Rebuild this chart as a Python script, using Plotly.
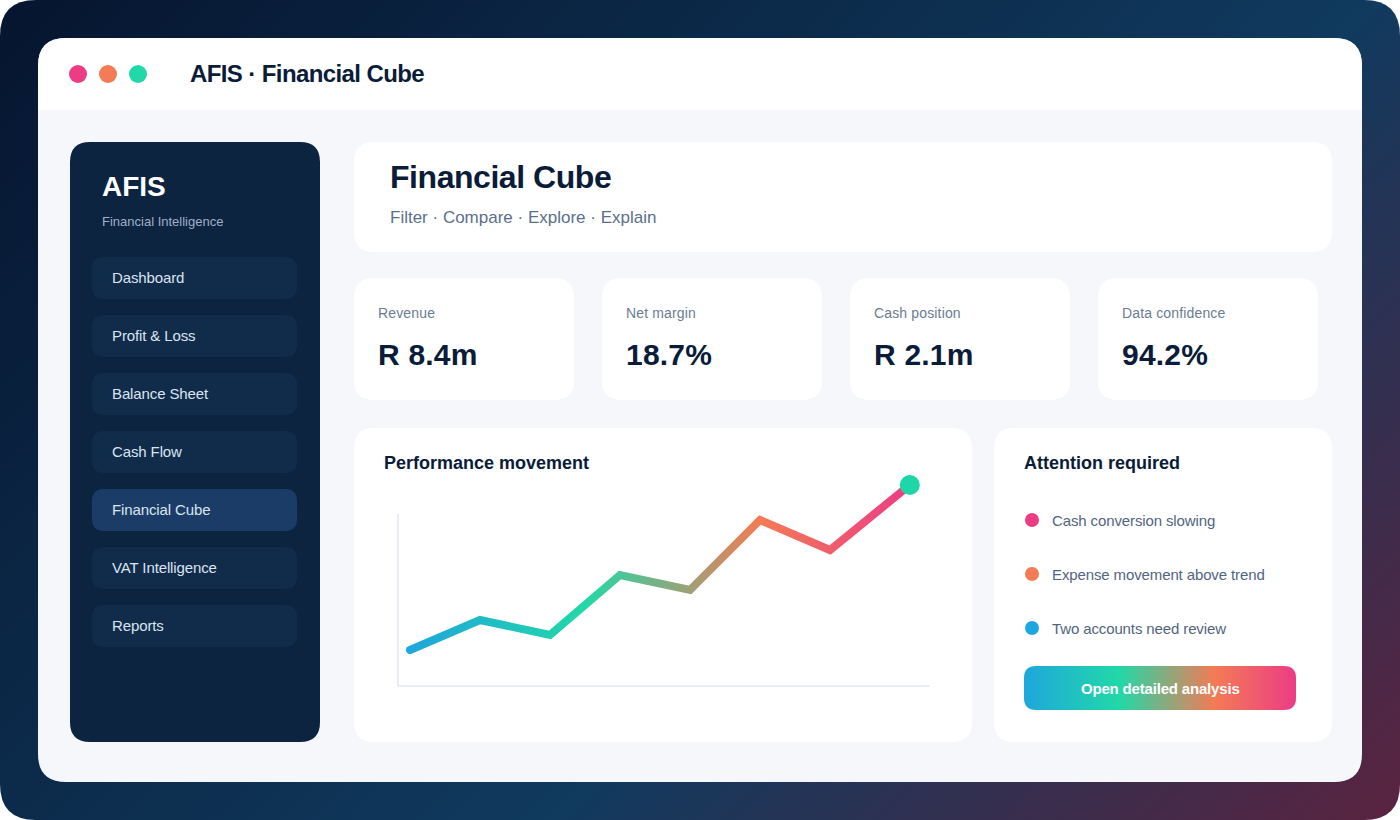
import json

import plotly.graph_objects as go

# チャートのデータ
periods = [0, 1, 2, 3, 4, 5, 6, 7.14]
movement = [36, 66, 51, 111, 96, 166, 136, 201]

# テキスト
nav_items = ["Dashboard", "Profit & Loss", "Balance Sheet", "Cash Flow", "Financial Cube", "VAT Intelligence", "Reports"]
kpi_labels = ["Revenue", "Net margin", "Cash position", "Data confidence"]
kpi_values = ["R 8.4m", "18.7%", "R 2.1m", "94.2%"]
alerts = ["Cash conversion slowing", "Expense movement above trend", "Two accounts need review"]

NAVY = "#0a1c38"
PINK = "#ec3c84"
ORANGE = "#f37b55"
GREEN = "#22d8a8"
BLUE = "#1ea7dc"
W, H = 1400, 820


def px_x(x):
    return x / W


def px_y(y):
    return 1 - y / H


def round_rect(x0, y0, x1, y1, r, fill, top_only=False):
    # 角丸の四角形（ピクセル指定 → paper座標）
    rb = 0 if top_only else r
    pts = [
        f"M {px_x(x0 + r)} {px_y(y0)}",
        f"L {px_x(x1 - r)} {px_y(y0)}",
        f"Q {px_x(x1)} {px_y(y0)} {px_x(x1)} {px_y(y0 + r)}",
        f"L {px_x(x1)} {px_y(y1 - rb)}",
        f"Q {px_x(x1)} {px_y(y1)} {px_x(x1 - rb)} {px_y(y1)}",
        f"L {px_x(x0 + rb)} {px_y(y1)}",
        f"Q {px_x(x0)} {px_y(y1)} {px_x(x0)} {px_y(y1 - rb)}",
        f"L {px_x(x0)} {px_y(y0 + r)}",
        f"Q {px_x(x0)} {px_y(y0)} {px_x(x0 + r)} {px_y(y0)} Z",
    ]
    return dict(type="path", xref="paper", yref="paper", path=" ".join(pts),
                fillcolor=fill, line_width=0, layer="below")


def dot(cx, cy, r, fill):
    return dict(type="circle", xref="paper", yref="paper", x0=px_x(cx - r), x1=px_x(cx + r),
                y0=px_y(cy + r), y1=px_y(cy - r), fillcolor=fill, line_width=0, layer="below")


def label(x, y, text, size, color, bold=False):
    return dict(xref="paper", yref="paper", x=px_x(x), y=px_y(y), text=text, showarrow=False,
                xanchor="left", yanchor="middle", align="left", borderpad=0, borderwidth=0,
                font=dict(family="Liberation Sans", size=size, color=color, weight=700 if bold else 400))


shapes = []
annotations = []

# 背景・ウィンドウ
shapes.append(round_rect(0, 0, 1400, 820, 36, "#0f3558"))  # index 0: グラデーション
shapes.append(round_rect(38, 38, 1362, 782, 28, "#f5f7fb"))
shapes.append(round_rect(38, 38, 1362, 110, 28, "#ffffff", top_only=True))

for cx, col in zip([78, 108, 138], [PINK, ORANGE, GREEN]):
    shapes.append(dot(cx, 74, 9, col))
annotations.append(label(190, 74, "AFIS · Financial Cube", 24, NAVY, True))

# サイドバー
shapes.append(round_rect(70, 142, 320, 742, 20, "#0d2440"))
annotations.append(label(102, 187, "AFIS", 28, "#ffffff", True))
annotations.append(label(102, 221, "Financial Intelligence", 13, "#9fb0c8"))
for i, name in enumerate(nav_items):
    y0 = 257 + 58 * i
    shapes.append(round_rect(92, y0, 297, y0 + 42, 12, "#1a3c66" if name == "Financial Cube" else "#112b4a"))
    annotations.append(label(112, y0 + 20.5, name, 15, "#dbe4f0"))

# ヘッダーカード
shapes.append(round_rect(354, 142, 1332, 252, 20, "#ffffff"))
annotations.append(label(390, 177, "Financial Cube", 32, NAVY, True))
annotations.append(label(390, 217, "Filter · Compare · Explore · Explain", 17, "#5b6f8c"))

# KPIカード
for i, (k, v) in enumerate(zip(kpi_labels, kpi_values)):
    x0 = 354 + 248 * i
    shapes.append(round_rect(x0, 278, x0 + 220, 400, 20, "#ffffff"))
    annotations.append(label(x0 + 24, 313, k, 14, "#6b7c93"))
    annotations.append(label(x0 + 24, 355, v, 30, NAVY, True))

# チャートカード
shapes.append(round_rect(354, 428, 972, 742, 20, "#ffffff"))
annotations.append(label(384, 463, "Performance movement", 18, NAVY, True))

# アラートカード
shapes.append(round_rect(994, 428, 1332, 742, 20, "#ffffff"))
annotations.append(label(1024, 463, "Attention required", 18, NAVY, True))
for i, (text, col) in enumerate(zip(alerts, [PINK, ORANGE, BLUE])):
    y = 520 + 54 * i
    shapes.append(dot(1032, y, 7, col))
    annotations.append(label(1052, y, text, 15, "#52657f"))

# ボタン
button_index = len(shapes)
shapes.append(round_rect(1024, 666, 1296, 710, 12, GREEN))
annotations.append(dict(label(1160, 688, "Open detailed analysis", 15, "#ffffff", True), xanchor="center", align="center"))

# 軸線（プロット領域を少し広げて線が切れないようにする）
x_min, x_max = -20 / 70, 530 / 70
y_min, y_max = -8, 208
axis_style = dict(type="line", xref="x", yref="y", line=dict(color="#e8edf3", width=2), layer="below")
shapes.append(dict(axis_style, x0=-12 / 70, x1=-12 / 70, y0=0, y1=172))
shapes.append(dict(axis_style, x0=-12 / 70, x1=520 / 70, y0=0, y1=0))

fig = go.Figure()
fig.add_trace(go.Scatter(x=periods, y=movement, mode="lines",
                         line=dict(width=8, color=GREEN), hoverinfo="skip"))
fig.add_trace(go.Scatter(x=periods[-1:], y=movement[-1:], mode="markers",
                         marker=dict(size=20, color="#1fd6a8"), hoverinfo="skip", cliponaxis=False))

fig.update_layout(
    width=W, height=H, margin=dict(l=0, r=0, t=0, b=0),
    paper_bgcolor="#ffffff", plot_bgcolor="rgba(0,0,0,0)",
    showlegend=False, shapes=shapes, annotations=annotations,
    xaxis=dict(domain=[390 / W, 940 / W], range=[x_min, x_max], visible=False),
    yaxis=dict(domain=[1 - 694 / H, 1 - 478 / H], range=[y_min, y_max], visible=False),
)

# 字間（px）: "サイズ|太さ" ごと
spacing = {"24|700": -0.6, "32|700": -0.45, "14|400": 0.15, "15|400": -0.12, "15|700": -0.18, "30|700": 0.2}

# plotly に無いグラデーションは SVG の defs を足して付ける
post = """
document.body.style.margin = '0';
var NS = 'http://www.w3.org/2000/svg';
var svg = document.querySelector('.main-svg');
var defs = svg.querySelector('defs');
function grad(id, attrs, stops) {
  var g = document.createElementNS(NS, 'linearGradient');
  g.setAttribute('id', id);
  for (var k in attrs) g.setAttribute(k, attrs[k]);
  stops.forEach(function (s) {
    var st = document.createElementNS(NS, 'stop');
    st.setAttribute('offset', s[0]);
    st.setAttribute('stop-color', s[1]);
    g.appendChild(st);
  });
  defs.appendChild(g);
}
grad('bgGrad', {gradientUnits: 'userSpaceOnUse', x1: 145, y1: -145, x2: 1255, y2: 965},
     [[0, '#06152f'], [0.62, '#103a5e'], [1, '#5a2340']]);
var stops = [[0, '#1ea7dc'], [0.35, '#22d8a8'], [0.7, '#f37b55'], [1, '#ec3c84']];
grad('lineGrad', {x1: 0, y1: 0, x2: 1, y2: 0}, stops);
grad('btnGrad', {x1: 0, y1: 0, x2: 1, y2: 0}, stops);
var below = document.querySelector('.layer-below .shapelayer');
below.querySelector('path[data-index="0"]').style.fill = 'url(#bgGrad)';
below.querySelector('path[data-index="BTN"]').style.fill = 'url(#btnGrad)';
var line = document.querySelector('.scatterlayer .js-line');
line.style.stroke = 'url(#lineGrad)';
line.style.strokeLinecap = 'round';
var spacing = SPACING;
document.querySelectorAll('.annotation-text').forEach(function (t) {
  var key = parseFloat(t.style.fontSize) + '|' + t.style.fontWeight;
  if (spacing[key] !== undefined) t.style.letterSpacing = spacing[key] + 'px';
});
""".replace("BTN", str(button_index)).replace("SPACING", json.dumps(spacing))

fig.write_html("out.html", config=dict(displayModeBar=False), post_script=post)
